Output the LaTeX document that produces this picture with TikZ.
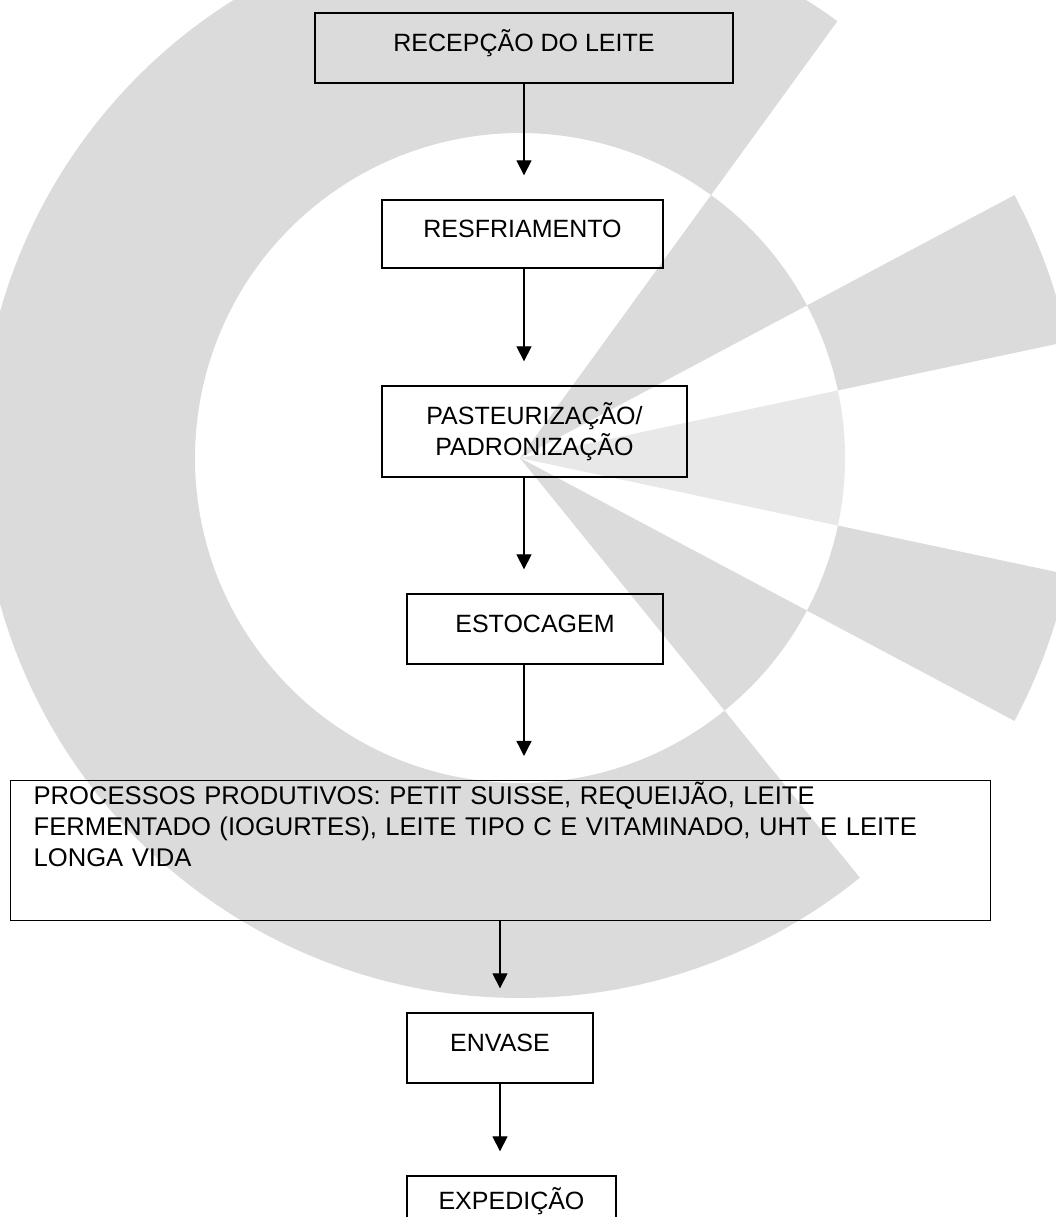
\documentclass[tikz,border=0pt]{standalone}
\usepackage{fontspec}
\setmainfont{Liberation Sans}
\usetikzlibrary{arrows.meta, positioning}

\tikzset{
    box/.style={draw, line width=0.65pt},
    stepbox/.style={box, text height=9pt, text depth=5pt},
    flow/.style={-{Triangle[length=7.5pt, width=7.5pt]}, line width=0.65pt, shorten >=12pt},
    wm/.style={fill=black!14},
}

\begin{document}
\begin{tikzpicture}[x=0.5pt, y=0.5pt, font=\fontsize{12.5}{15.5}\selectfont]
    \clip (0,0) rectangle (1056,1217);
    \fill[white] (0,0) rectangle (1056,1217);

    % logo behind the chart
    \begin{scope}[shift={(520,759)}]
        \fill[wm] (54:540) arc[start angle=54, end angle=309, radius=540]
            -- (309:325) arc[start angle=309, end angle=54, radius=325] -- cycle;
        \fill[wm] (0,0) -- (28:325) arc[start angle=28, end angle=54, radius=325] -- cycle;
        \fill[wm] (12:325) -- (12:560) arc[start angle=12, end angle=28, radius=560]
            -- (28:325) arc[start angle=28, end angle=12, radius=325] -- cycle;
        \fill[black!9] (0,0) -- (-12:325) arc[start angle=-12, end angle=12, radius=325] -- cycle;
        \fill[wm] (-28:325) -- (-28:560) arc[start angle=-28, end angle=-12, radius=560]
            -- (-12:325) arc[start angle=-12, end angle=-28, radius=325] -- cycle;
        \fill[wm] (0,0) -- (-51:325) arc[start angle=-51, end angle=-28, radius=325] -- cycle;
    \end{scope}

    \node[stepbox, minimum width=209pt, minimum height=35pt] (recep) at (524,1169) {RECEPÇÃO DO LEITE};
    \node[stepbox, minimum width=140.5pt, minimum height=34pt] (resf) at (522.5,983) {RESFRIAMENTO};
    \node[box, align=center, minimum width=152.5pt, minimum height=45.5pt] (past) at (534.5,785.5) {PASTEURIZAÇÃO/\\PADRONIZAÇÃO};
    \node[stepbox, minimum width=128pt, minimum height=35pt] (estoc) at (535,588) {ESTOCAGEM};
    \node[box, anchor=north west, text width=467pt, align=left, inner xsep=11.5pt, inner ysep=3pt,
          text height=9pt, text depth=55pt, font=\fontsize{12.8}{15.5}\selectfont] (proc) at (10,437)
          {PROCESSOS PRODUTIVOS: PETIT SUISSE, REQUEIJÃO, LEITE\\FERMENTADO (IOGURTES), LEITE TIPO C E VITAMINADO, UHT E LEITE\\LONGA VIDA};
    \node[stepbox, minimum width=93pt, minimum height=35pt] (envase) at (500,169) {ENVASE};
    \node[stepbox, minimum width=104.5pt, minimum height=30pt] (exped) at (511.5,11) {EXPEDIÇÃO};

    \draw[flow] (recep.south) -- (resf.north -| recep.south);
    \draw[flow] (resf.south -| recep.south) -- (past.north -| recep.south);
    \draw[flow] (past.south -| recep.south) -- (estoc.north -| recep.south);
    \draw[flow] (estoc.south -| recep.south) -- (proc.north -| recep.south);
    \draw[flow] (proc.south -| envase.north) -- (envase.north);
    \draw[flow] (envase.south) -- (exped.north -| envase.south);
\end{tikzpicture}
\end{document}
